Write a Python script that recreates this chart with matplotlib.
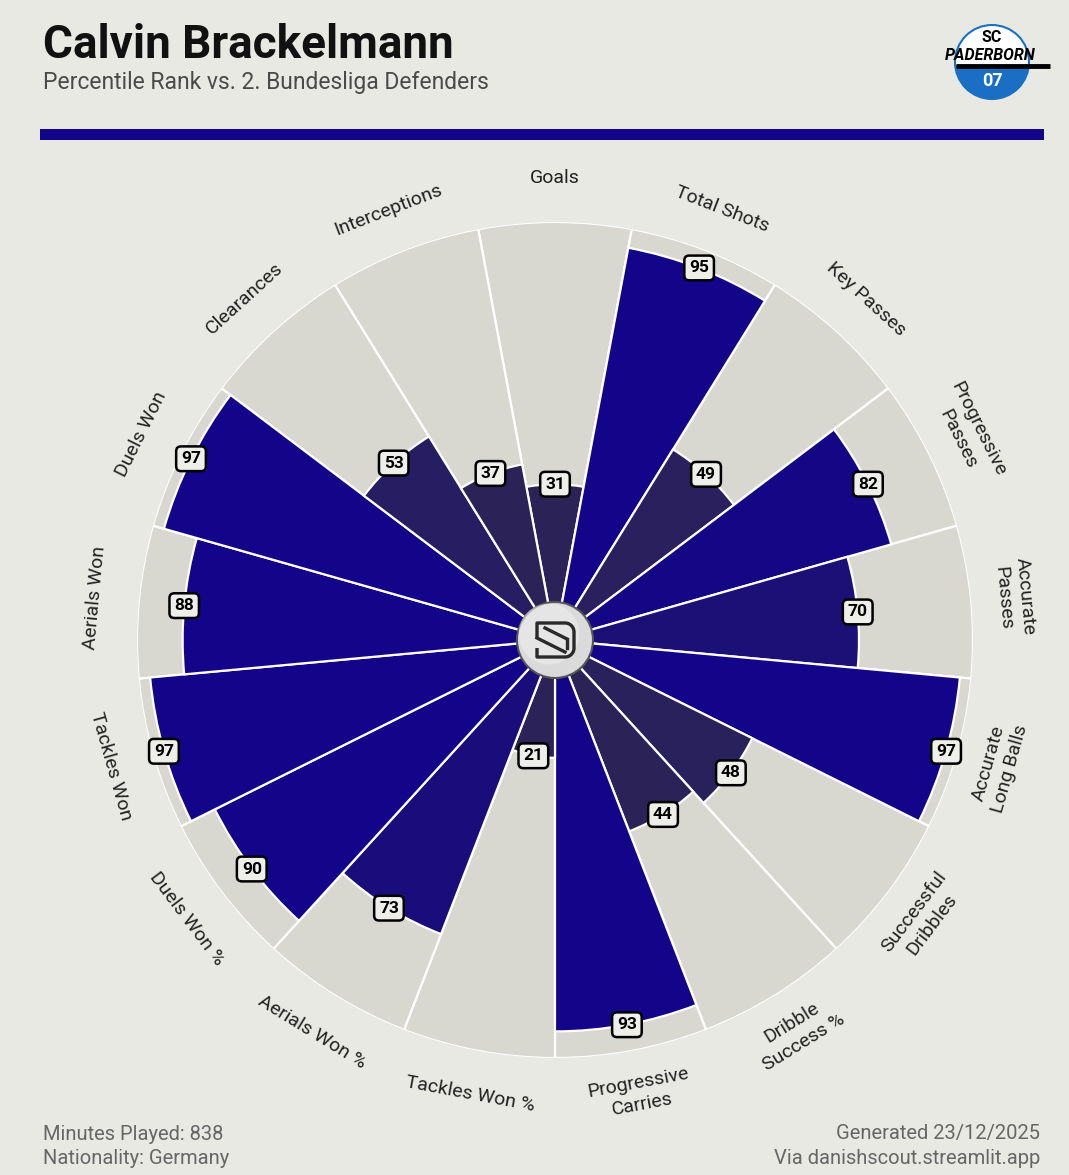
import numpy as np
import matplotlib
matplotlib.use("Agg")
import matplotlib.pyplot as plt
from matplotlib.colors import to_rgb
from matplotlib.patches import Circle, Wedge, Rectangle

plt.rcParams["font.family"] = ["Roboto", "DejaVu Sans"]

player = "Calvin Brackelmann"
subtitle = "Percentile Rank vs. 2. Bundesliga Defenders"
metrics = [
    "Goals", "Total Shots", "Key Passes", "Progressive\nPasses", "Accurate\nPasses",
    "Accurate\nLong Balls", "Successful\nDribbles", "Dribble\nSuccess %",
    "Progressive\nCarries", "Tackles Won %", "Aerials Won %", "Duels Won %",
    "Tackles Won", "Aerials Won", "Duels Won", "Clearances", "Interceptions",
]
percentiles = [31, 95, 49, 82, 70, 97, 48, 44, 93, 21, 73, 90, 97, 88, 97, 53, 37]
footer_left = ["Minutes Played: 838", "Nationality: Germany"]
footer_right = ["Generated 23/12/2025", "Via danishscout.streamlit.app"]

BG = "#e9e9e3"
SLICE = "#d8d8d0"
NAVY = "#13048a"
DARK = "#2b2358"

W, H = 1069, 1175
fig = plt.figure(figsize=(W / 100, H / 100), dpi=100)
fig.patch.set_facecolor(BG)


def bar_color(v):
    t = np.clip((v - 45) / 40, 0, 1)
    lo, hi = np.array(to_rgb(DARK)), np.array(to_rgb(NAVY))
    return tuple(lo + (hi - lo) * t)


# polar pizza
cx, cy, R = 555, 640, 418
ax = fig.add_axes([(cx - R) / W, (H - cy - R) / H, 2 * R / W, 2 * R / H], projection="polar")
ax.set_facecolor("none")
ax.set_theta_zero_location("N")
ax.set_theta_direction(-1)
n = len(metrics)
theta = np.arange(n) * 2 * np.pi / n
width = 2 * np.pi / n
rmin = -10
ax.set_ylim(rmin, 100)
ax.bar(theta, [100 - rmin] * n, width=width, bottom=rmin, color=SLICE, edgecolor="white", linewidth=1.6)
ax.bar(theta, [v - rmin for v in percentiles], width=width, bottom=rmin,
       color=[bar_color(v) for v in percentiles], edgecolor="white", linewidth=1.6)
ax.set_xticks([])
ax.set_yticks([])
ax.grid(False)
ax.spines["polar"].set_visible(False)

for th, v, name in zip(theta, percentiles, metrics):
    ax.text(th, v, str(v), ha="center", va="center", fontsize=12.5, fontweight="bold", color="black",
            bbox=dict(boxstyle="round,pad=0.28", facecolor="#efefea", edgecolor="black", linewidth=1.8),
            zorder=5)
    phi = np.degrees(th)
    math_ang = (90 - phi + 180) % 360 - 180
    rot = -phi if math_ang >= 0 else 180 - phi
    ax.text(th, 111.5, name, ha="center", va="center", rotation=rot, rotation_mode="anchor",
            fontsize=14, color="#222222", linespacing=1.3, clip_on=False)

# center logo
r0 = 38
lax = fig.add_axes([(cx - 45) / W, (H - cy - 45) / H, 90 / W, 90 / H])
lax.set_xlim(-45, 45)
lax.set_ylim(-45, 45)
lax.set_aspect("equal")
lax.axis("off")
lax.add_patch(Circle((0, 0), r0, facecolor="#dadada", edgecolor="#555555", linewidth=1.5))
lax.add_patch(Circle((-6, 6), r0 * 0.8, facecolor="#eeeeee", edgecolor="none", alpha=0.6))
t = np.linspace(0, np.pi / 2, 20)
pts = [(-18, 2), (-18, 17), (10, 17)]
pts += [(10 + 9 * np.sin(a), 8 + 9 * np.cos(a)) for a in t]
pts += [(19, -8)]
pts += [(10 + 9 * np.cos(a), -8 - 9 * np.sin(a)) for a in t]
pts += [(-18, -17), (-18, -8)]
xs, ys = zip(*pts)
lax.plot(xs, ys, color="#2a2a2a", linewidth=2.4, solid_capstyle="butt")
lax.plot([-18, 10], [2, -12], color="#2a2a2a", linewidth=2.4)
lax.plot([-10, 12], [12, 1], color="#2a2a2a", linewidth=2.4)
lax.plot([12, 12], [1, -8], color="#2a2a2a", linewidth=2.4)

# header
fig.text(43 / W, 1 - 45 / H, player, fontsize=33, fontweight="bold", color="#111111", va="center", ha="left")
fig.text(43 / W, 1 - 83 / H, subtitle, fontsize=16.5, color="#4a4a4a", va="center", ha="left")
fig.patches.append(Rectangle((40 / W, 1 - 140 / H), 1004 / W, 11 / H, transform=fig.transFigure,
                             facecolor=NAVY, edgecolor="none"))

# club badge
bax = fig.add_axes([(992 - 60) / W, 1 - (62 + 60) / H, 120 / W, 120 / H])
bax.set_xlim(-60, 60)
bax.set_ylim(-60, 60)
bax.set_aspect("equal")
bax.axis("off")
bax.add_patch(Wedge((0, 0), 37, 0, 180, facecolor="white", edgecolor="none"))
bax.add_patch(Wedge((0, 0), 37, 180, 360, facecolor="#1a6fc4", edgecolor="none"))
bax.add_patch(Rectangle((-37, -3), 74, 6, facecolor="white", edgecolor="none"))
bax.add_patch(Circle((0, 0), 37, facecolor="none", edgecolor="#1a6fc4", linewidth=1.5))
bax.plot([-36, 58], [-4, -4], color="black", linewidth=3.5, solid_capstyle="butt")
bax.text(0, 24, "SC", ha="center", va="center", fontsize=11.5, fontweight="bold", color="black")
bax.text(-2, 7, "PADERBORN", ha="center", va="center", fontsize=11.5, fontweight="bold", style="italic",
         color="black")
bax.text(0, -19, "07", ha="center", va="center", fontsize=13, fontweight="bold", color="white")

# footer
for i, line in enumerate(footer_left):
    fig.text(43 / W, 1 - (1134 + 24 * i) / H, line, fontsize=14.5, color="#666666", va="center", ha="left")
for i, line in enumerate(footer_right):
    fig.text(1040 / W, 1 - (1134 + 24 * i) / H, line, fontsize=14.5, color="#666666", va="center", ha="right")

fig.savefig("out.png", dpi=100, facecolor=BG)
